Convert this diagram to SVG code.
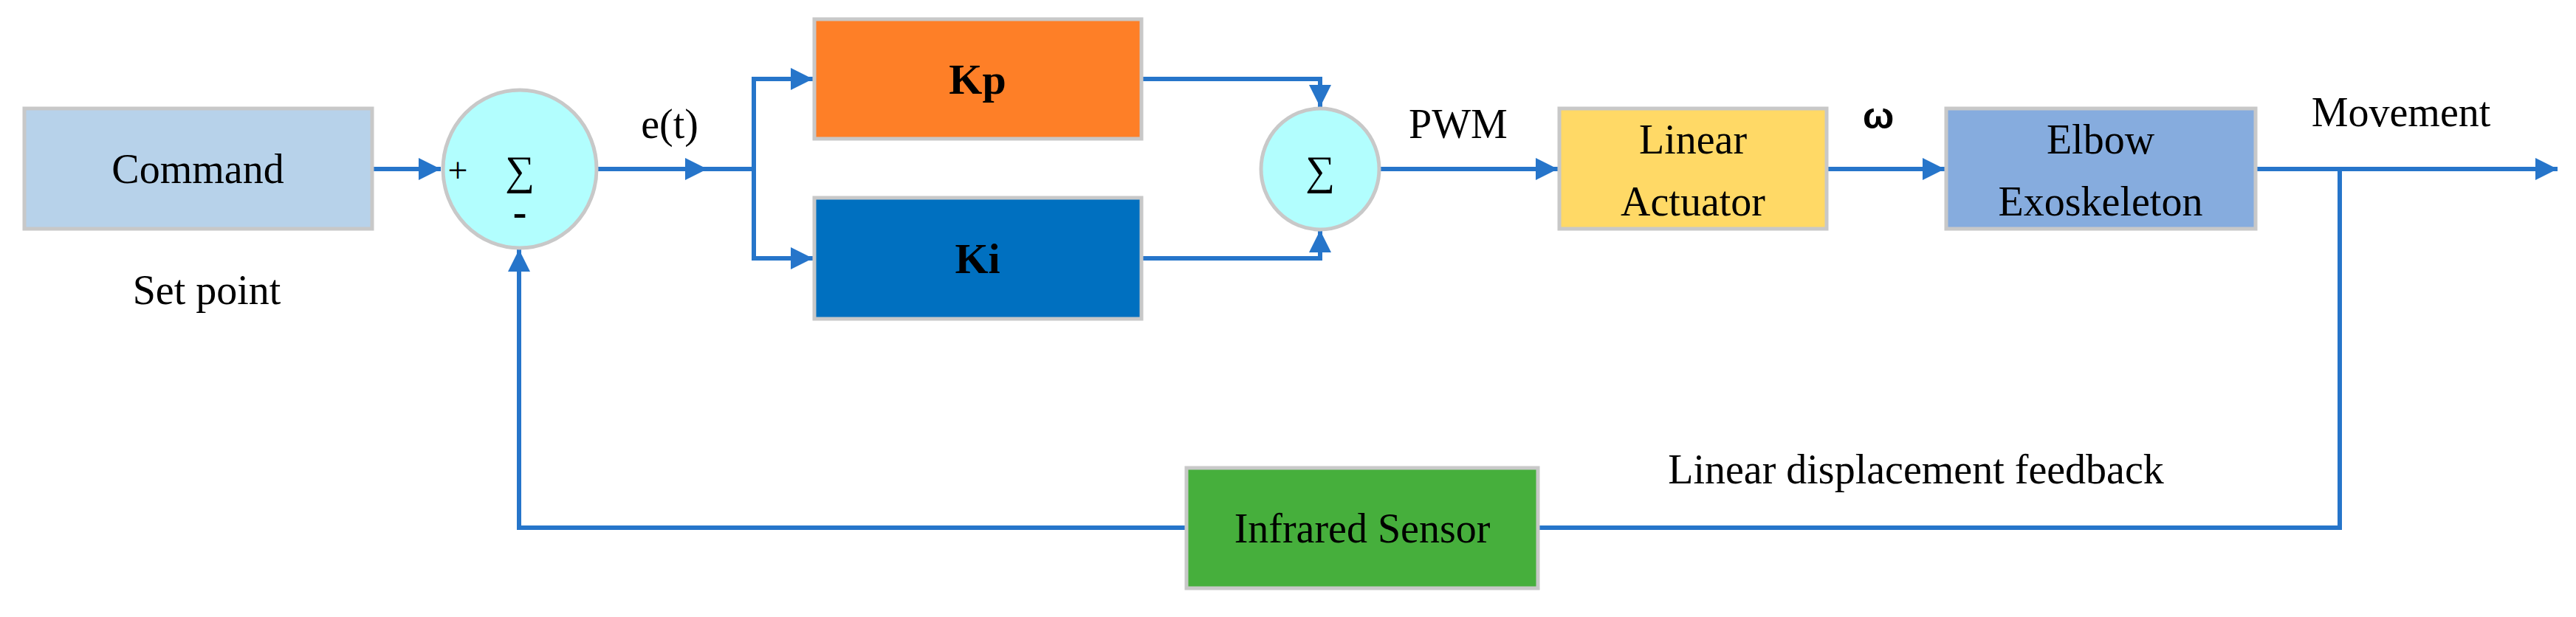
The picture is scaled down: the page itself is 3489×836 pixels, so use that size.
<svg xmlns="http://www.w3.org/2000/svg" width="3489" height="836" viewBox="0 0 3489 836">
<style>
.b{stroke:#C8C8C8;stroke-width:5}
.t{font-family:"Liberation Serif",serif;font-size:56px;fill:#000;text-anchor:middle}
.k{font-weight:bold;font-size:58px}
.c{fill:none;stroke:#2675CA;stroke-width:6}
</style>
<defs><marker id="a" viewBox="0 0 10 10" refX="10" refY="5" markerWidth="5" markerHeight="5" markerUnits="strokeWidth" orient="auto"><path d="M0,0L10,5L0,10z" fill="#2675CA"/></marker></defs>
<rect width="3489" height="836" fill="#fff"/>
<g id="connectors">
<path class="c" d="M504,229H597" marker-end="url(#a)"/>
<path class="c" d="M808,229H958" marker-end="url(#a)"/>
<path class="c" d="M958,229H1021"/>
<path class="c" d="M1021,229V107H1101" marker-end="url(#a)"/>
<path class="c" d="M1021,229V350H1101" marker-end="url(#a)"/>
<path class="c" d="M1546,107H1788V145" marker-end="url(#a)"/>
<path class="c" d="M1546,350H1788V312" marker-end="url(#a)"/>
<path class="c" d="M1868,229H2110" marker-end="url(#a)"/>
<path class="c" d="M2474,229H2634" marker-end="url(#a)"/>
<path class="c" d="M3055,229H3464" marker-end="url(#a)"/>
<path class="c" d="M3169,229V715H2083"/>
<path class="c" d="M1607,715H703V338" marker-end="url(#a)"/>
</g>
<g id="command"><rect class="b" x="33" y="147" width="471" height="163" fill="#B7D2EA"/><text class="t" x="268" y="248">Command</text></g>
<text class="t" x="280" y="412">Set point</text>
<g id="sum1"><ellipse class="b" cx="704" cy="229" rx="104" ry="107" fill="#B2FEFE"/><text class="t" x="704" y="250">∑</text><text class="t" x="620" y="247" style="font-size:48px">+</text><text class="t" x="704" y="306" style="font-weight:bold">-</text></g>
<text class="t" x="907" y="187">e(t)</text>
<g id="kp"><rect class="b" x="1103" y="26" width="443" height="162" fill="#FE7F27"/><text class="t k" x="1324" y="127">Kp</text></g>
<g id="ki"><rect class="b" x="1103" y="268" width="443" height="164" fill="#0070C0"/><text class="t k" x="1324" y="370">Ki</text></g>
<g id="sum2"><ellipse class="b" cx="1788" cy="229" rx="80" ry="82" fill="#B2FEFE"/><text class="t" x="1788" y="250">∑</text></g>
<text class="t" x="1975" y="187">PWM</text>
<g id="actuator"><rect class="b" x="2112" y="147" width="362" height="163" fill="#FFD966"/><text class="t" x="2293" y="208">Linear</text><text class="t" x="2293" y="292">Actuator</text></g>
<text x="2544" y="174" style="font-family:'Liberation Sans',sans-serif;font-weight:bold;font-size:50px;text-anchor:middle">ω</text>
<g id="elbow"><rect class="b" x="2636" y="147" width="419" height="163" fill="#86ACDE"/><text class="t" x="2845" y="208">Elbow</text><text class="t" x="2845" y="292">Exoskeleton</text></g>
<text class="t" x="3252" y="171">Movement</text>
<g id="sensor"><rect class="b" x="1607" y="634" width="476" height="163" fill="#46AF3C"/><text class="t" x="1845" y="735">Infrared Sensor</text></g>
<text class="t" x="2595" y="655">Linear displacement feedback</text>
</svg>
